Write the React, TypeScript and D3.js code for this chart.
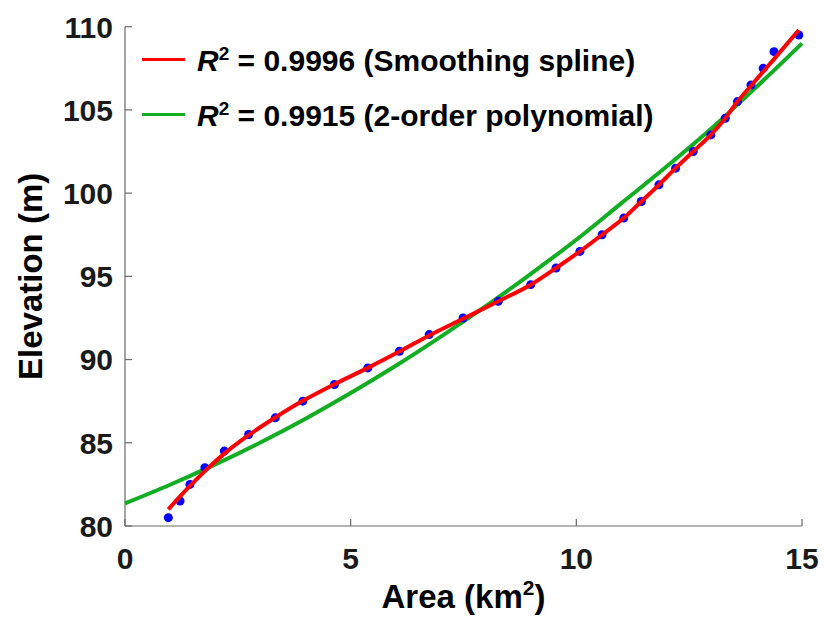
import { useRef, useEffect } from "react";
import * as d3 from "d3";

// observed points (area km2, elevation m)
const areas = [0.96, 1.22, 1.44, 1.77, 2.2, 2.74, 3.33, 3.94, 4.64, 5.38, 6.08, 6.74, 7.49, 8.27, 8.99, 9.55, 10.08, 10.57, 11.05, 11.44, 11.83, 12.2, 12.59, 12.98, 13.3, 13.57, 13.87, 14.14, 14.38, 14.93];
const elevations = [80.5, 81.5, 82.5, 83.5, 84.5, 85.5, 86.5, 87.5, 88.5, 89.5, 90.5, 91.5, 92.5, 93.5, 94.5, 95.5, 96.5, 97.5, 98.5, 99.5, 100.5, 101.5, 102.5, 103.5, 104.5, 105.5, 106.5, 107.5, 108.5, 109.5];

// smoothing spline (at the same areas)
const splineValues = [81.0, 81.78, 82.41, 83.3, 84.35, 85.46, 86.52, 87.52, 88.52, 89.5, 90.48, 91.45, 92.45, 93.5, 94.5, 95.5, 96.5, 97.5, 98.5, 99.5, 100.5, 101.5, 102.5, 103.5, 104.5, 105.5, 106.45, 107.3, 108.05, 109.8];

// 2-order polynomial
const polyAreas = [0, 1, 2, 3, 4, 5, 6, 7, 8, 9, 10, 11, 12, 13, 14, 15];
const polyValues = [81.36, 82.48, 83.7, 85.02, 86.45, 87.99, 89.63, 91.38, 93.22, 95.17, 97.2, 99.4, 101.6, 103.9, 106.4, 109.0];

const xTicks = [0, 5, 10, 15];
const yTicks = [80, 85, 90, 95, 100, 105, 110];
const legendR2 = ["0.9996", "0.9915"];
const legendNames = ["(Smoothing spline)", "(2-order polynomial)"];
const colors = ["#ff0000", "#12ad22"];

const W = 824;
const H = 630;
const FONT = "Arial, 'Liberation Sans', sans-serif";

function App() {
  const svgRef = useRef<SVGSVGElement>(null);

  useEffect(() => {
    const svg = d3.select(svgRef.current);
    svg.selectAll("*").remove();

    const x = d3.scaleLinear().domain([0, 15]).range([125, 802]);
    const y = d3.scaleLinear().domain([80, 110]).range([526, 26.7]);

    // axes (left + bottom only, ticks inward)
    const axisColor = "#6a6a6a";
    svg.append("line")
      .attr("x1", x(0)).attr("x2", x(0)).attr("y1", y(80)).attr("y2", y(110))
      .attr("stroke", axisColor).attr("stroke-width", 1.2);
    svg.append("line")
      .attr("x1", x(0)).attr("x2", x(15)).attr("y1", y(80)).attr("y2", y(80))
      .attr("stroke", axisColor).attr("stroke-width", 1.2);

    svg.append("g").selectAll("line").data(yTicks).join("line")
      .attr("x1", x(0)).attr("x2", x(0) + 7)
      .attr("y1", d => y(d)).attr("y2", d => y(d))
      .attr("stroke", axisColor).attr("stroke-width", 1.2);
    svg.append("g").selectAll("line").data(xTicks).join("line")
      .attr("x1", d => x(d)).attr("x2", d => x(d))
      .attr("y1", y(80)).attr("y2", y(80) - 7)
      .attr("stroke", axisColor).attr("stroke-width", 1.2);

    svg.append("g").selectAll("text").data(yTicks).join("text")
      .attr("x", x(0) - 12).attr("y", d => y(d))
      .attr("dy", "0.36em")
      .attr("text-anchor", "end")
      .attr("font-family", FONT).attr("font-weight", "bold").attr("font-size", 30)
      .attr("fill", "#1a1a1a")
      .text(d => d);
    svg.append("g").selectAll("text").data(xTicks).join("text")
      .attr("x", d => x(d)).attr("y", y(80) + 43)
      .attr("text-anchor", "middle")
      .attr("font-family", FONT).attr("font-weight", "bold").attr("font-size", 30)
      .attr("fill", "#1a1a1a")
      .text(d => d);

    // axis titles
    const xl = svg.append("text")
      .attr("x", (x(0) + x(15)) / 2).attr("y", 608)
      .attr("text-anchor", "middle")
      .attr("font-family", FONT).attr("font-weight", "bold").attr("font-size", 33)
      .attr("fill", "#000");
    xl.append("tspan").text("Area (km");
    xl.append("tspan").attr("font-size", 21).attr("dy", -13).text("2");
    xl.append("tspan").attr("dy", 13).text(")");

    svg.append("text")
      .attr("transform", `translate(42, ${(y(80) + y(110)) / 2}) rotate(-90)`)
      .attr("text-anchor", "middle")
      .attr("font-family", FONT).attr("font-weight", "bold").attr("font-size", 33)
      .attr("fill", "#000")
      .text("Elevation (m)");

    // polynomial fit
    const poly = polyAreas.map((a, i) => [a, polyValues[i]] as [number, number]);
    svg.append("path")
      .datum(poly)
      .attr("d", d3.line<[number, number]>().x(d => x(d[0])).y(d => y(d[1])).curve(d3.curveMonotoneX))
      .attr("fill", "none").attr("stroke", colors[1]).attr("stroke-width", 4);

    // data points
    svg.append("g").selectAll("circle").data(areas).join("circle")
      .attr("cx", d => x(d)).attr("cy", (d, i) => y(elevations[i]))
      .attr("r", 4.5).attr("fill", "#0000ff");

    // smoothing spline
    const spline = areas.map((a, i) => [a, splineValues[i]] as [number, number]);
    svg.append("path")
      .datum(spline)
      .attr("d", d3.line<[number, number]>().x(d => x(d[0])).y(d => y(d[1])).curve(d3.curveMonotoneX))
      .attr("fill", "none").attr("stroke", colors[0]).attr("stroke-width", 4);

    // legend
    const leg = svg.append("g");
    legendR2.forEach((r2, i) => {
      const ly = 59.5 + i * 55;
      leg.append("line")
        .attr("x1", 142).attr("x2", 185).attr("y1", ly).attr("y2", ly)
        .attr("stroke", colors[i]).attr("stroke-width", 3);
      const t = leg.append("text")
        .attr("x", 197).attr("y", ly + 11)
        .attr("font-family", FONT).attr("font-weight", "bold").attr("font-size", 30)
        .attr("fill", "#000");
      t.append("tspan").attr("font-style", "italic").text("R");
      t.append("tspan").attr("font-size", 19).attr("dy", -11).text("2");
      t.append("tspan").attr("dy", 11).text(` = ${r2} ${legendNames[i]}`);
    });
  }, []);

  return (
    <svg
      ref={svgRef}
      width={W}
      height={H}
      style={{ position: "absolute", left: 0, top: 0, background: "#fff" }}
    />
  );
}

export default App;
